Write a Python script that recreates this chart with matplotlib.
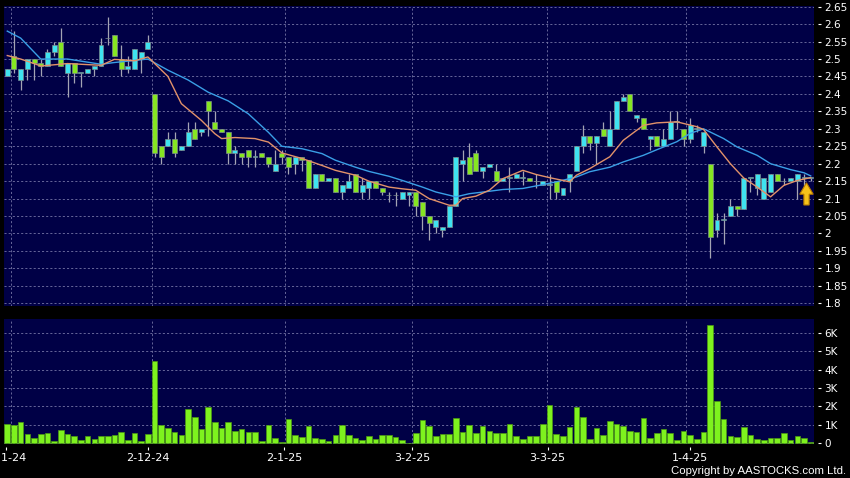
import matplotlib
matplotlib.use("Agg")
import matplotlib.pyplot as plt
import numpy as np
from matplotlib.patches import Polygon

# daily candles from 1 Nov 2024, one entry per trading day
opens = [2.45, 2.51, 2.44, 2.47, 2.50, 2.49, 2.48, 2.52, 2.55, 2.46,
         2.49, 2.46, 2.46, 2.47, 2.48, 2.56, 2.57, 2.50, 2.47, 2.47,
         2.50, 2.53, 2.40, 2.25, 2.25, 2.27, 2.24, 2.25, 2.30, 2.29,
         2.38, 2.32, 2.30, 2.29, 2.23, 2.23, 2.24, 2.22, 2.23, 2.22,
         2.18, 2.23, 2.22, 2.20, 2.22, 2.21, 2.13, 2.17, 2.15, 2.16,
         2.12, 2.13, 2.17, 2.12, 2.13, 2.15, 2.13, 2.11, 2.11, 2.10,
         2.11, 2.12, 2.09, 2.05, 2.02, 2.01, 2.02, 2.08, 2.20, 2.22,
         2.23, 2.18, 2.19, 2.18, 2.15, 2.16, 2.16, 2.16, 2.16, 2.15,
         2.14, 2.14, 2.15, 2.11, 2.15, 2.18, 2.25, 2.28, 2.26, 2.30,
         2.25, 2.30, 2.38, 2.40, 2.33, 2.33, 2.27, 2.28, 2.25, 2.27,
         2.32, 2.30, 2.27, 2.30, 2.25, 2.20, 2.01, 2.04, 2.05, 2.08,
         2.07, 2.16, 2.13, 2.10, 2.12, 2.17, 2.15, 2.15, 2.15, 2.16,
         2.16]
highs = [2.47, 2.58, 2.47, 2.50, 2.50, 2.50, 2.53, 2.55, 2.59, 2.49,
         2.49, 2.46, 2.47, 2.48, 2.56, 2.62, 2.57, 2.54, 2.51, 2.53,
         2.52, 2.57, 2.40, 2.25, 2.29, 2.29, 2.25, 2.32, 2.32, 2.30,
         2.38, 2.35, 2.30, 2.29, 2.25, 2.23, 2.24, 2.24, 2.23, 2.22,
         2.24, 2.24, 2.22, 2.22, 2.22, 2.21, 2.17, 2.17, 2.16, 2.16,
         2.14, 2.17, 2.17, 2.16, 2.15, 2.15, 2.13, 2.12, 2.12, 2.12,
         2.12, 2.12, 2.09, 2.05, 2.04, 2.02, 2.08, 2.22, 2.24, 2.26,
         2.24, 2.19, 2.20, 2.20, 2.16, 2.19, 2.17, 2.18, 2.16, 2.17,
         2.15, 2.17, 2.15, 2.13, 2.17, 2.25, 2.31, 2.28, 2.28, 2.32,
         2.35, 2.38, 2.40, 2.40, 2.34, 2.33, 2.28, 2.28, 2.30, 2.35,
         2.35, 2.30, 2.33, 2.31, 2.29, 2.20, 2.06, 2.06, 2.10, 2.08,
         2.16, 2.16, 2.17, 2.16, 2.17, 2.17, 2.16, 2.16, 2.17, 2.17,
         2.16]
lows = [2.45, 2.46, 2.41, 2.44, 2.44, 2.45, 2.48, 2.51, 2.48, 2.39,
        2.43, 2.42, 2.46, 2.45, 2.48, 2.54, 2.51, 2.45, 2.46, 2.47,
        2.46, 2.53, 2.22, 2.20, 2.25, 2.22, 2.24, 2.25, 2.27, 2.28,
        2.28, 2.30, 2.29, 2.20, 2.20, 2.20, 2.19, 2.19, 2.22, 2.19,
        2.18, 2.20, 2.17, 2.17, 2.18, 2.13, 2.13, 2.15, 2.15, 2.12,
        2.10, 2.13, 2.12, 2.10, 2.10, 2.13, 2.11, 2.09, 2.08, 2.10,
        2.08, 2.05, 2.01, 1.98, 2.00, 1.99, 2.02, 2.08, 2.15, 2.17,
        2.18, 2.16, 2.19, 2.15, 2.15, 2.12, 2.16, 2.14, 2.15, 2.13,
        2.14, 2.10, 2.10, 2.11, 2.12, 2.18, 2.23, 2.24, 2.20, 2.28,
        2.25, 2.30, 2.38, 2.35, 2.32, 2.30, 2.24, 2.25, 2.25, 2.27,
        2.30, 2.25, 2.26, 2.29, 2.23, 1.93, 1.99, 1.97, 2.05, 2.05,
        2.07, 2.12, 2.11, 2.10, 2.12, 2.15, 2.14, 2.15, 2.10, 2.13,
        2.15]
closes = [2.47, 2.47, 2.47, 2.50, 2.49, 2.48, 2.52, 2.54, 2.48, 2.49,
          2.46, 2.46, 2.47, 2.48, 2.54, 2.56, 2.51, 2.47, 2.48, 2.53,
          2.52, 2.55, 2.23, 2.22, 2.27, 2.23, 2.25, 2.29, 2.27, 2.30,
          2.35, 2.30, 2.29, 2.23, 2.24, 2.22, 2.22, 2.22, 2.22, 2.20,
          2.20, 2.22, 2.19, 2.22, 2.21, 2.13, 2.17, 2.15, 2.16, 2.12,
          2.14, 2.15, 2.12, 2.14, 2.15, 2.13, 2.12, 2.11, 2.11, 2.12,
          2.12, 2.08, 2.05, 2.03, 2.04, 2.02, 2.08, 2.22, 2.21, 2.17,
          2.18, 2.19, 2.20, 2.15, 2.16, 2.16, 2.17, 2.16, 2.15, 2.15,
          2.15, 2.14, 2.12, 2.13, 2.17, 2.25, 2.28, 2.26, 2.28, 2.28,
          2.30, 2.38, 2.39, 2.35, 2.34, 2.30, 2.28, 2.25, 2.27, 2.32,
          2.32, 2.27, 2.31, 2.30, 2.29, 1.99, 2.04, 2.04, 2.08, 2.07,
          2.16, 2.16, 2.17, 2.16, 2.17, 2.15, 2.15, 2.16, 2.17, 2.16,
          2.16]
volumes_k = [1.05, 0.98, 1.16, 0.50, 0.29, 0.50, 0.54, 0.13, 0.72, 0.50,
             0.40, 0.20, 0.38, 0.22, 0.40, 0.42, 0.45, 0.63, 0.18, 0.56,
             0.13, 0.52, 4.48, 0.98, 0.85, 0.61, 0.45, 1.84, 1.41, 0.76,
             1.99, 1.18, 0.81, 1.16, 0.69, 0.78, 0.63, 0.60, 0.10, 1.01,
             0.29, 0.05, 1.34, 0.47, 0.34, 0.92, 0.29, 0.22, 0.13, 0.43,
             0.98, 0.43, 0.31, 0.16, 0.38, 0.22, 0.43, 0.43, 0.33, 0.16,
             0.00, 0.54, 1.25, 0.94, 0.40, 0.50, 0.52, 1.39, 0.61, 0.98,
             0.56, 0.96, 0.67, 0.54, 0.54, 1.07, 0.42, 0.24, 0.38, 0.38,
             1.05, 2.10, 0.50, 0.40, 0.90, 1.99, 1.41, 0.22, 0.85, 0.45,
             1.23, 1.03, 0.92, 0.69, 0.63, 1.37, 0.31, 0.54, 0.76, 0.54,
             0.20, 0.65, 0.45, 0.24, 0.60, 6.40, 2.30, 1.30, 0.40, 0.34,
             0.89, 0.43, 0.24, 0.18, 0.29, 0.29, 0.58, 0.16, 0.38, 0.27,
             0.05]

# moving averages (bar number, value)
ma_short_days = [0, 2, 4, 5, 9, 14, 16, 19, 21, 24, 26, 29, 31, 32, 34, 37, 39, 41,
                 44, 47, 49, 52, 54, 57, 59, 61, 63, 66, 67, 68, 70, 72, 74, 77, 79,
                 81, 84, 85, 87, 90, 92, 95, 97, 100, 103, 104, 106, 108, 110, 112,
                 114, 116, 118, 120]
ma_short = [2.51, 2.50, 2.487, 2.48, 2.487, 2.482, 2.499, 2.495, 2.506, 2.45, 2.372,
            2.324, 2.286, 2.272, 2.275, 2.272, 2.262, 2.231, 2.215, 2.195, 2.181,
            2.167, 2.15, 2.133, 2.128, 2.124, 2.10, 2.081, 2.081, 2.10, 2.107, 2.124,
            2.157, 2.181, 2.169, 2.16, 2.148, 2.167, 2.186, 2.22, 2.267, 2.31, 2.317,
            2.32, 2.306, 2.298, 2.248, 2.20, 2.159, 2.133, 2.105, 2.138, 2.152, 2.16]
ma_long_days = [0, 2, 4, 5, 9, 14, 16, 21, 24, 27, 30, 33, 36, 39, 41, 44, 47, 49,
                52, 54, 57, 59, 62, 64, 67, 69, 72, 74, 77, 80, 82, 85, 87, 90, 92,
                95, 97, 100, 102, 104, 107, 109, 112, 114, 117, 119, 120]
ma_long = [2.58, 2.56, 2.52, 2.50, 2.50, 2.485, 2.49, 2.50, 2.468, 2.44, 2.405,
           2.38, 2.343, 2.29, 2.25, 2.243, 2.229, 2.21, 2.19, 2.178, 2.164, 2.152,
           2.133, 2.119, 2.105, 2.114, 2.121, 2.126, 2.129, 2.14, 2.148, 2.162,
           2.177, 2.19, 2.205, 2.224, 2.24, 2.263, 2.287, 2.30, 2.272, 2.248,
           2.224, 2.20, 2.183, 2.174, 2.165]

price_ticks = [2.65, 2.6, 2.55, 2.5, 2.45, 2.4, 2.35, 2.3, 2.25, 2.2, 2.15, 2.1,
               2.05, 2.0, 1.95, 1.9, 1.85, 1.8]
vol_ticks = [0, 1, 2, 3, 4, 5, 6]
vol_labels = ["0", "1K", "2K", "3K", "4K", "5K", "6K"]
date_labels = ["1-11-24", "2-12-24", "2-1-25", "3-2-25", "3-3-25", "1-4-25"]

# layout (bar units / pixels)
DATE_TICK_POS = [-0.2, 21.0, 41.3, 60.5, 80.7, 101.9]
DATE_GRID_POS = [0.5, 21.6, 41.5, 60.5, 80.6, 101.4]
XLIM = (-0.49, 120.49)

NAVY = "#000046"
GRID = "#7676a6"
CYAN = "#3fe3f0"
GREEN = "#86e622"
VOLGREEN = "#7ef21e"
WICK = "#a4a4b4"
TXT = "white"

W, H = 850, 478
fig = plt.figure(figsize=(W / 100, H / 100), dpi=100, facecolor="black")
ax = fig.add_axes([4 / W, 1 - 305.7 / H, 810 / W, 299.7 / H])
axv = fig.add_axes([4 / W, 1 - 444 / H, 810 / W, 125.3 / H])

for a in (ax, axv):
    a.set_facecolor(NAVY)
    for s in a.spines.values():
        s.set_visible(False)
    a.spines["right"].set_position(("outward", 3))
    a.spines["bottom"].set_position(("outward", 2))
    a.set_xlim(*XLIM)
    a.yaxis.tick_right()
    a.tick_params(axis="y", length=2.5, width=0.8, color=TXT, labelcolor=TXT,
                  labelsize=7.5, pad=2)
    a.grid(axis="y", color=GRID, lw=0.6, ls=(0, (2.5, 2.5)))
    for gx in DATE_GRID_POS:
        a.axvline(gx, color=GRID, lw=0.6, ls=(0, (2.5, 2.5)), zorder=0.5)
    a.set_axisbelow(True)

# price panel
x = np.arange(len(closes))
o, hi, lo, c = map(np.asarray, (opens, highs, lows, closes))
up = c >= o
ax.vlines(x, lo, hi, color=WICK, lw=0.9, zorder=3)
ax.bar(x, np.maximum(np.abs(c - o), 0.0015), bottom=np.minimum(o, c), width=0.74,
       color=np.where(up, CYAN, GREEN), edgecolor="#7c8c8c", lw=0.5, zorder=4)
ax.plot(ma_long_days, ma_long, color="#3a9fe6", lw=1.0, zorder=5)
ax.plot(ma_short_days, ma_short, color="#e2926a", lw=1.0, zorder=5)
ax.set_ylim(1.793, 2.652)
ax.set_yticks(price_ticks)
ax.set_yticklabels([f"{t:g}" for t in price_ticks])
ax.set_xticks([])

# yellow arrow on the last close
arrow = Polygon([(0.9907, 0.410), (0.9990, 0.372), (0.9940, 0.372), (0.9940, 0.336),
                 (0.9875, 0.336), (0.9875, 0.372), (0.9824, 0.372)],
                closed=True, transform=ax.transAxes, facecolor="#f6c21a",
                edgecolor="#b77a00", lw=0.8, zorder=6, clip_on=False)
ax.add_patch(arrow)

# volume panel
axv.bar(x, volumes_k, width=0.84, color=VOLGREEN, edgecolor="#4c9a12", lw=0.5, zorder=3)
axv.set_ylim(-0.04, 6.76)
axv.set_yticks(vol_ticks)
axv.set_yticklabels(vol_labels)
axv.set_xticks(DATE_TICK_POS)
axv.set_xticklabels(date_labels)
axv.tick_params(axis="x", length=2.5, width=0.8, color=TXT, labelcolor=TXT,
                labelsize=8, pad=2)

# the first date label runs off the left edge in the original too
fig.text(846 / W, 1 - 471 / H, "Copyright by AASTOCKS.com Ltd.", color=TXT,
         fontsize=8.2, family="Liberation Sans", ha="right", va="center")

fig.savefig("out.png", dpi=100, facecolor="black")
